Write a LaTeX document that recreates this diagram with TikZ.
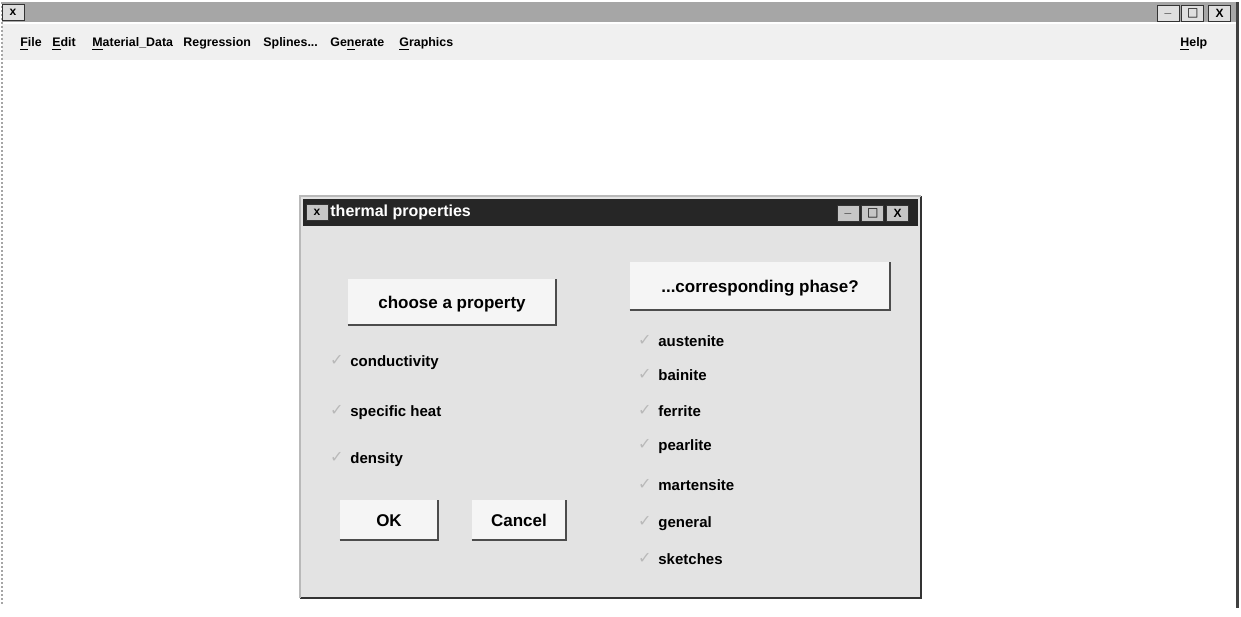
\documentclass[tikz,border=0pt]{standalone}
\usepackage{fontspec}
\setmainfont{Liberation Sans}
\newfontfamily\symfont{DejaVu Sans}
\usetikzlibrary{positioning}

\tikzset{
  titlebar/.style={fill=gray!70, draw=none},
  dlgbar/.style={fill=black!85, draw=none},
  menuitem/.style={anchor=west, inner sep=0pt, text height=1.6ex, text depth=0.4ex, font=\bfseries\fontsize{6.2}{8}\selectfont},
  winbtn/.style={draw=black!80, fill=gray!25, minimum width=11pt, minimum height=8pt, inner sep=0pt, font=\bfseries\fontsize{6}{6}\selectfont},
  pushbtn/.style={fill=gray!8, draw=none, inner sep=0pt, text height=1.6ex, text depth=0.4ex, font=\bfseries\fontsize{8.5}{10}\selectfont},
  optlabel/.style={anchor=west, inner sep=0pt, text height=1.6ex, text depth=0.4ex, font=\bfseries\fontsize{7.5}{9}\selectfont},
  chk/.style={text=gray!55, inner sep=0pt, font=\symfont\fontsize{8}{8}\selectfont},
}

\begin{document}
\begin{tikzpicture}[x=0.5pt, y=-0.5pt]
    \useasboundingbox (0,0) rectangle (1241,616);

    % main window
    \fill[gray!12] (2,24) rectangle (1236,60);
    \fill[titlebar] (2,2) rectangle (1236,22);
    \draw[gray!70, densely dotted, line width=1pt] (2,2) -- (2,605);
    \draw[black!75, line width=1.5pt] (1237,2) -- (1237,608);
    \node[winbtn] (icon) at (13,12) {x};
    \node[winbtn] (wmin) at (1168,13) {\_};
    \node[winbtn, right=1pt of wmin] (wmax) {{\symfont □}};
    \node[winbtn, right=2pt of wmax] (wclose) {X};

    % menu bar
    \foreach \x/\name/\txt in {20/mfile/\underline{F}ile, 52/medit/\underline{E}dit,
        92/mmat/\underline{M}aterial\_Data, 183/mreg/Regression, 263/mspl/Splines{.}{.}{.},
        330/mgen/Ge\underline{n}erate, 399/mgra/\underline{G}raphics, 1180/mhelp/\underline{H}elp} {
        \node[menuitem] (\name) at (\x,40) {\txt};
    }

    % dialog
    \fill[gray!22] (300,196) rectangle (921,598);
    \draw[black!80, line width=1pt] (300,598) -- (921,598) -- (921,196);
    \draw[gray!55, line width=0.8pt] (300,598) -- (300,196) -- (921,196);
    \fill[dlgbar] (303,199) rectangle (918,226);
    \node[winbtn, fill=gray!45] (dicon) at (317,212) {x};
    \node[anchor=west, inner sep=0pt, text=white, font=\bfseries\fontsize{8}{9}\selectfont]
        (dtitle) at (330,212) {thermal properties};
    \node[winbtn, fill=gray!45] (dmin) at (848,213) {\_};
    \node[winbtn, fill=gray!45, right=1pt of dmin] (dmax) {{\symfont □}};
    \node[winbtn, fill=gray!45, right=1pt of dmax] (dclose) {X};

    % buttons
    \node[pushbtn, minimum width=104pt, minimum height=23pt] (choose) at (452,302) {choose a property};
    \node[pushbtn, minimum width=130pt, minimum height=24pt] (phase) at (760,286) {...corresponding phase?};
    \node[pushbtn, minimum width=49pt, minimum height=20pt] (ok) at (389,520) {OK};
    \node[pushbtn, minimum width=47pt, minimum height=20pt] (cancel) at (519,520) {Cancel};
    \foreach \b in {choose, phase, ok, cancel} {
        \draw[black!70, line width=1pt] (\b.south west) -- (\b.south east) -- (\b.north east);
    }

    % property options
    \foreach \y/\name/\txt in {360/pcond/conductivity, 410/pspec/specific heat, 457/pdens/density} {
        \node[optlabel] (\name) at (350,\y) {\txt};
        \node[chk, left=3pt of \name] {✓};
    }

    % phase options
    \foreach \y/\name/\txt in {340/faus/austenite, 374/fbai/bainite, 410/ffer/ferrite,
        444/fpea/pearlite, 484/fmar/martensite, 521/fgen/general, 558/fske/sketches} {
        \node[optlabel] (\name) at (658,\y) {\txt};
        \node[chk, left=3pt of \name] {✓};
    }
\end{tikzpicture}
\end{document}
